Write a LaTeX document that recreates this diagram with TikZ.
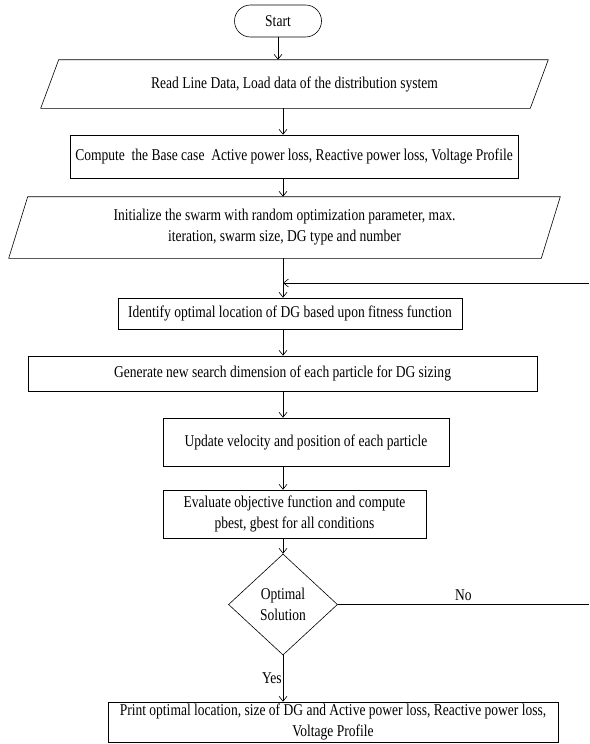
\documentclass[tikz,border=0pt]{standalone}
\usepackage{fontspec}
\setmainfont[FakeStretch=0.82]{Liberation Serif}
\usetikzlibrary{shapes.geometric,arrows.meta}

\begin{document}
\begin{tikzpicture}[x=1pt,y=-1pt,line width=0.6pt,
    >={Straight Barb[length=5pt,width=8pt]},
    box/.style={draw,rectangle,inner sep=0pt,align=center},
    iobox/.style={rectangle,inner sep=0pt,align=center}]
                \useasboundingbox (0,0) rectangle (589,744);
                {\fontsize{16.5}{21}\selectfont

                % Axis of the main flow
                \coordinate (axis) at (283,0);

                % Drawing terminal Start
                \node [box,rounded corners=16pt,minimum width=87pt,minimum height=32pt] (start) at (278,21) {Start};

                % Drawing input Read
                \node [iobox,minimum width=489pt,minimum height=48pt] (read) at (294.5,84) {Read Line Data, Load data of the distribution system};
                \draw ([xshift=9pt]read.north west) -- ([xshift=9pt]read.north east) -- ([xshift=-9pt]read.south east) -- ([xshift=-9pt]read.south west) -- cycle;

                % Drawing box Compute
                \node [box,minimum width=448pt,minimum height=43pt] (compute) at (294,156.5) {Compute\ \ the Base case\ \ Active power loss, Reactive power loss, Voltage Profile};

                % Drawing input Init
                \node [iobox,minimum width=532pt,minimum height=61pt] (init) at (284.5,227.5) {Initialize the swarm with random optimization parameter, max.\\ iteration, swarm size, DG type and number};
                \draw ([xshift=9.5pt]init.north west) -- ([xshift=9.5pt]init.north east) -- ([xshift=-9.5pt]init.south east) -- ([xshift=-9.5pt]init.south west) -- cycle;

                % Drawing box Identify
                \node [box,minimum width=344pt,minimum height=31pt] (ident) at (290,313.5) {Identify optimal location of DG based upon fitness function};

                % Drawing box Generate
                \node [box,minimum width=509pt,minimum height=35pt] (gen) at (282.5,373.5) {Generate new search dimension of each particle for DG sizing};

                % Drawing box Update
                \node [box,minimum width=286pt,minimum height=48pt] (update) at (306,442) {Update velocity and position of each particle};

                % Drawing box Evaluate
                \node [box,minimum width=263pt,minimum height=48pt] (eval) at (294.5,514) {Evaluate objective function and compute\\ pbest, gbest for all conditions};

                % Drawing decision
                \node [draw,diamond,inner sep=0pt,align=center,minimum width=109pt,minimum height=101pt] (dec) at (283,604.5) {Optimal\\ Solution};

                % Drawing box Print
                \node [box,minimum width=450pt,minimum height=40pt] (print) at (333,722) {Print optimal location, size of DG and Active power loss, Reactive power loss,\\ Voltage Profile};

                % Loop ends at the border
                \coordinate (noend) at (589,604.5);
                \coordinate (backin) at (589,283);

                % Drawing arrows
                \draw [->] (start.south) -- (start.south |- read.north);
                \draw [->] (axis |- read.south) -- (axis |- compute.north);
                \draw [->] (axis |- compute.south) -- (axis |- init.north);
                \draw [->] (axis |- init.south) -- (axis |- ident.north);
                \draw [->] (axis |- ident.south) -- (axis |- gen.north);
                \draw [->] (axis |- gen.south) -- (axis |- update.north);
                \draw [->] (axis |- update.south) -- (axis |- eval.north);
                \draw [->] (axis |- eval.south) -- (dec.north);
                \draw [->] (dec.south) -- node [left,inner sep=1pt] {Yes} (axis |- print.north);
                \draw (dec.east) -- node [above,inner sep=4pt] {No} (noend);
                \draw [->] (backin) -- (axis |- backin);
                }
\end{tikzpicture}
\end{document}
